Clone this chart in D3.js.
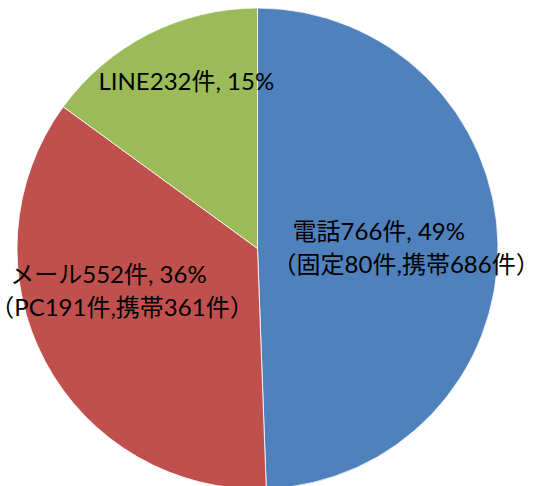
<!DOCTYPE html>
<html>
<head>
<meta charset="utf-8">
<script src="https://cdn.jsdelivr.net/npm/d3@7"></script>
<style>
  body { margin: 0; background: #fff; }
  svg { display: block; }
  .detail { font-feature-settings: "halt"; }
</style>
</head>
<body>
<svg id="drawing_region"></svg>
<script>
// data
const categories = ["電話", "メール", "LINE"];
const counts = [766, 552, 232];
const percents = ["49%", "36%", "15%"];
const details = ["（固定80件,携帯686件）", "（PC191件,携帯361件）", ""];
const colors = ["#4F81BD", "#C0504D", "#9BBB59"];

const width = 551, height = 486;
const cx = 257.5, cy = 248.5, radius = 240.5;

const svg = d3.select('#drawing_region')
    .attr('width', width)
    .attr('height', height);

const chart = svg.append('g')
    .attr('transform', `translate(${cx}, ${cy})`);

const pie = d3.pie()
    .sort(null)
    .value(d => d);

const arcs = pie(counts);

const arc = d3.arc()
    .innerRadius(0)
    .outerRadius(radius);

chart.selectAll('path')
    .data(arcs)
    .join('path')
    .attr('d', arc)
    .attr('fill', (d, i) => colors[i])
    .attr('stroke', '#fff')
    .attr('stroke-width', 0.8);

// label placement: slice centroid, then a nudge to the block's top-left line
const labelArc = d3.arc().innerRadius(0).outerRadius(radius * 2 * 0.67);
const nudge = [[-126, -14], [-105, -50], [-86, -23]];
const lineGap = 33.5;
const parenShift = -8; // second line starts with "（", set half-width

const labels = chart.selectAll('text.label')
    .data(arcs)
    .join('text')
    .attr('class', 'label')
    .attr('font-family', 'Lato, "Noto Sans CJK JP", sans-serif')
    .attr('font-size', '24px')
    .attr('fill', '#000');

labels.each(function(d, i) {
    const t = d3.select(this);
    const lines = [`${categories[i]}${counts[i]}件, ${percents[i]}`];
    if (details[i]) lines.push(details[i]);
    const [px, py] = labelArc.centroid(d);
    const x0 = px + nudge[i][0];
    const y0 = py + nudge[i][1];
    t.selectAll('tspan')
        .data(lines)
        .join('tspan')
        .attr('class', (s, j) => j > 0 ? 'detail' : null)
        .attr('x', (s, j) => j > 0 ? x0 + parenShift : x0)
        .attr('y', (s, j) => y0 + j * lineGap)
        .attr('dy', '0.35em')
        .text(s => s);
});
</script>
</body>
</html>
